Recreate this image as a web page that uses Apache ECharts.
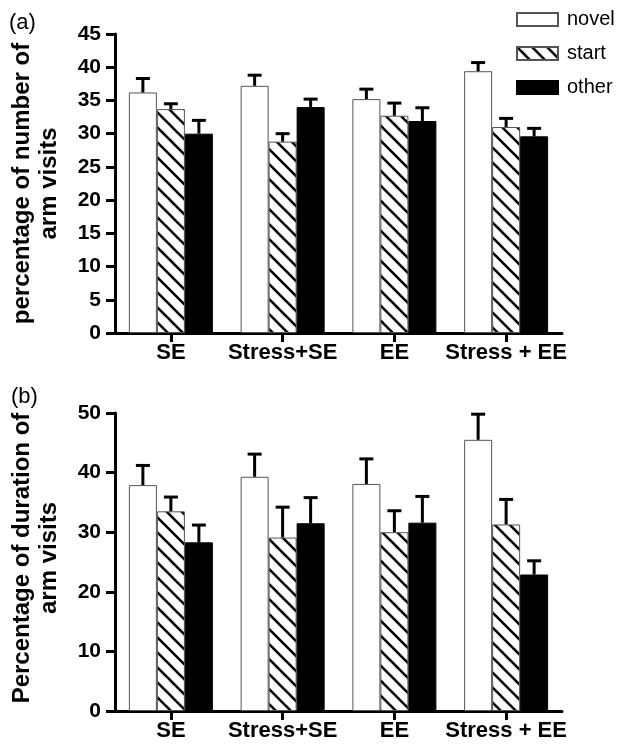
<!DOCTYPE html>
<html><head><meta charset="utf-8">
<script src="https://cdn.jsdelivr.net/npm/echarts@6/dist/echarts.min.js"></script>
<style>html,body{margin:0;padding:0;background:#fff}#c{width:621px;height:744px}</style>
</head><body><div id="c"></div>
<script>
// ---- data ----
const categories = ['SE', 'Stress+SE', 'EE', 'Stress + EE'];
const seriesNames = ['novel', 'start', 'other'];

// panel (a): percentage of number of arm visits
const novelA = [36.2, 37.2, 35.2, 39.4];
const startA = [33.7, 28.8, 32.7, 31.0];
const otherA = [30.0, 34.0, 31.9, 29.6];
const novelAErr = [2.1, 1.6, 1.5, 1.3];
const startAErr = [0.8, 1.2, 1.9, 1.3];
const otherAErr = [2.0, 1.2, 2.0, 1.2];

// panel (b): percentage of duration of arm visits
const novelB = [37.9, 39.3, 38.1, 45.5];
const startB = [33.5, 29.1, 30.0, 31.3];
const otherB = [28.3, 31.5, 31.6, 22.9];
const novelBErr = [3.3, 3.8, 4.2, 4.3];
const startBErr = [2.4, 5.1, 3.6, 4.2];
const otherBErr = [2.9, 4.3, 4.4, 2.3];

const yMaxA = 45, yStepA = 5;
const yMaxB = 50, yStepB = 10;

// ---- styling ----
const FONT = "'Liberation Sans', Arial, Helvetica, sans-serif";
const BAR_W = 28;

function hatchCanvas() {
  const c = document.createElement('canvas');
  c.width = 15; c.height = 15;
  const g = c.getContext('2d');
  g.fillStyle = '#fff'; g.fillRect(0, 0, 15, 15);
  g.strokeStyle = '#000'; g.lineWidth = 2.6;
  for (const o of [-15, 0, 15]) {
    g.beginPath(); g.moveTo(o - 3, -3); g.lineTo(o + 18, 18); g.stroke();
  }
  return c;
}
const hatch = { image: hatchCanvas(), repeat: 'repeat' };

const barStyles = [
  { color: '#fff', borderColor: '#555', borderWidth: 1 },
  { color: hatch, borderColor: '#555', borderWidth: 1 },
  { color: '#000', borderColor: '#000', borderWidth: 1 }
];

function errRender(offset) {
  return function (params, api) {
    const i = api.value(0);
    const x = api.coord([i, 0])[0] + offset;
    const y0 = api.coord([i, api.value(1)])[1];
    const y1 = api.coord([i, api.value(1) + api.value(2)])[1];
    const st = { stroke: '#000', lineWidth: 3 };
    return { type: 'group', children: [
      { type: 'line', shape: { x1: x, y1: y0, x2: x, y2: y1 }, style: st },
      { type: 'line', shape: { x1: x - 7, y1: y1, x2: x + 7, y2: y1 }, style: st }
    ]};
  };
}

function xAxisFor(gi) {
  return {
    type: 'category', gridIndex: gi, data: categories,
    axisLine: { show: true, lineStyle: { color: '#000', width: 3 } },
    axisTick: { show: true, alignWithLabel: true, length: 9, lineStyle: { color: '#000', width: 3 } },
    axisLabel: { interval: 0, fontSize: 22, fontWeight: 'bold', color: '#000', fontFamily: FONT, margin: 9 },
    splitLine: { show: false }
  };
}
function yAxisFor(gi, max, step, name, shift) {
  return {
    type: 'value', gridIndex: gi, min: 0, max: max, interval: step,
    name: name, nameLocation: 'middle', nameGap: 52, nameRotate: 90,
    nameTextStyle: { fontSize: 24, fontWeight: 'bold', color: '#000', fontFamily: FONT, lineHeight: 27, align: 'center', padding: [0, 0, 0, shift] },
    axisLine: { show: true, lineStyle: { color: '#000', width: 3 } },
    axisTick: { show: true, length: 9, lineStyle: { color: '#000', width: 3 } },
    axisLabel: { fontSize: 21, fontWeight: 'bold', color: '#000', fontFamily: FONT, margin: 14 },
    splitLine: { show: false }
  };
}

const panels = [
  { vals: [novelA, startA, otherA], errs: [novelAErr, startAErr, otherAErr] },
  { vals: [novelB, startB, otherB], errs: [novelBErr, startBErr, otherBErr] }
];
const offsets = [-BAR_W, 0, BAR_W];

const series = [];
panels.forEach((p, gi) => {
  p.vals.forEach((v, k) => {
    series.push({
      type: 'bar', name: seriesNames[k], xAxisIndex: gi, yAxisIndex: gi,
      data: v, barWidth: BAR_W, barGap: '0%', itemStyle: barStyles[k],
      emphasis: { disabled: true }, z: 2, animation: false
    });
  });
  p.vals.forEach((v, k) => {
    series.push({
      type: 'custom', name: seriesNames[k] + ' err', xAxisIndex: gi, yAxisIndex: gi,
      data: v.map((m, i) => [i, m, p.errs[k][i]]),
      encode: { x: 0, y: 1 },
      renderItem: errRender(offsets[k]), z: 3, silent: true, animation: false
    });
  });
});

const chart = echarts.init(document.getElementById('c'), null, { renderer: 'canvas' });
chart.setOption({
  backgroundColor: '#fff',
  animation: false,
  grid: [
    { left: 115, top: 34, width: 447, height: 299 },
    { left: 115, top: 413, width: 447, height: 298 }
  ],
  xAxis: [xAxisFor(0), xAxisFor(1)],
  yAxis: [
    yAxisFor(0, yMaxA, yStepA, 'percentage of number of\narm visits', 0),
    yAxisFor(1, yMaxB, yStepB, 'Percentage of duration of\narm visits', 8)
  ],
  legend: {
    data: seriesNames, orient: 'vertical', left: 516, top: 9, padding: 0,
    itemWidth: 41, itemHeight: 13, itemGap: 13, icon: 'rect',
    textStyle: { fontSize: 20, lineHeight: 21, color: '#000', fontFamily: FONT, padding: [0, 0, 0, 4] },
    selectedMode: false
  },
  graphic: [
    { type: 'text', left: 9, top: 12, style: { text: '(a)', fontSize: 22, fill: '#000', fontFamily: FONT } },
    { type: 'text', left: 11, top: 386, style: { text: '(b)', fontSize: 22, fill: '#000', fontFamily: FONT } }
  ],
  series: series
});
</script></body></html>
